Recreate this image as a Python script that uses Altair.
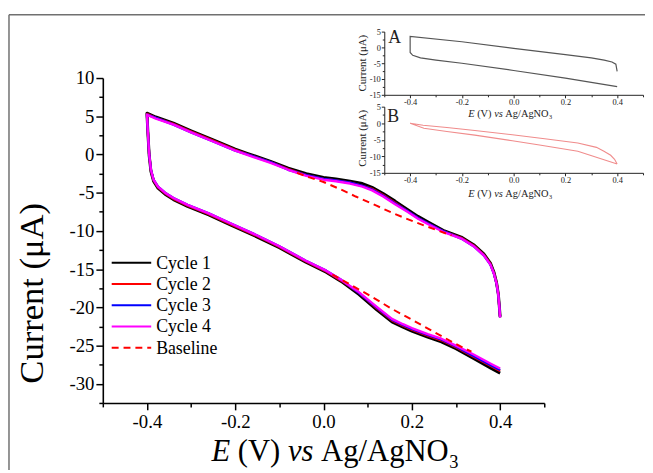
import altair as alt
import pandas as pd

SERIF = "'Liberation Serif', 'Times New Roman', Times, serif"
MINUS = "\u2212"

# ---------------- data ----------------
E_MAIN = [0.400, 0.380, 0.341, 0.300, 0.267, 0.236, 0.200, 0.180, 0.155, 0.120, 0.080, 0.040, 0.006,
          -0.040, -0.100, -0.150, -0.211, -0.260, -0.308, -0.340, -0.359, -0.375, -0.385, -0.391,
          -0.395, -0.398, -0.400,
          -0.380, -0.340, -0.300, -0.250, -0.200, -0.173, -0.120, -0.080, -0.039, 0.000, 0.028,
          0.060, 0.088, 0.110, 0.135, 0.162, 0.190, 0.214, 0.236, 0.274, 0.312, 0.340, 0.363,
          0.378, 0.386, 0.392, 0.396, 0.398, 0.400]

I_C1 = [-28.6, -28.0, -26.7, -25.4, -24.5, -23.9, -23.1, -22.6, -21.9, -20.3, -18.3, -16.6, -15.4,
        -14.1, -12.2, -10.8, -9.2, -7.9, -6.8, -5.9, -5.2, -4.4, -3.5, -2.2, -0.1, 3.0, 5.4,
        4.9, 4.1, 3.1, 1.9, 0.7, 0.15, -0.9, -1.8, -2.5, -3.0, -3.2, -3.5, -3.8, -4.3, -5.1,
        -6.1, -7.2, -8.1, -8.8, -10.0, -10.8, -11.8, -13.0, -14.2, -15.4, -16.8, -18.3, -19.7, -21.2]
I_C2 = [-28.3, -27.7, -26.5, -25.2, -24.3, -23.7, -22.9, -22.4, -21.7, -20.1, -18.1, -16.5, -15.3,
        -14.0, -12.1, -10.7, -9.1, -7.8, -6.7, -5.8, -5.1, -4.3, -3.4, -2.1, 0.0, 3.0, 5.3,
        4.8, 4.0, 3.0, 1.8, 0.6, 0.05, -1.0, -1.9, -2.7, -3.2, -3.4, -3.7, -4.1, -4.5, -5.3,
        -6.3, -7.4, -8.3, -9.0, -10.1, -10.9, -11.9, -13.1, -14.3, -15.5, -16.8, -18.3, -19.8, -21.3]
I_C3 = [-28.2, -27.6, -26.4, -25.1, -24.2, -23.6, -22.8, -22.3, -21.6, -20.0, -18.1, -16.4, -15.2,
        -13.9, -12.0, -10.6, -9.0, -7.7, -6.6, -5.7, -5.0, -4.2, -3.3, -2.0, 0.0, 3.0, 5.2,
        4.8, 3.9, 2.9, 1.7, 0.5, 0.0, -1.0, -2.0, -2.7, -3.2, -3.4, -3.7, -4.1, -4.6, -5.4,
        -6.4, -7.4, -8.3, -9.0, -10.1, -11.0, -12.0, -13.2, -14.4, -15.6, -16.9, -18.4, -19.8, -21.3]
I_C4 = [-28.0, -27.4, -26.2, -25.0, -24.1, -23.5, -22.7, -22.2, -21.5, -19.9, -18.0, -16.4, -15.2,
        -13.9, -12.0, -10.6, -9.0, -7.7, -6.6, -5.7, -5.0, -4.2, -3.3, -2.0, 0.0, 3.0, 5.2,
        4.7, 3.9, 2.9, 1.7, 0.5, -0.05, -1.1, -2.0, -2.8, -3.3, -3.5, -3.8, -4.2, -4.7, -5.5,
        -6.5, -7.5, -8.4, -9.1, -10.2, -11.0, -12.0, -13.2, -14.4, -15.6, -16.9, -18.4, -19.8, -21.3]

BASE_UP_E = [-0.060, -0.032, 0.000, 0.040, 0.073, 0.120, 0.162, 0.210, 0.252, 0.290]
BASE_UP_I = [-2.4, -3.0, -3.6, -4.6, -5.5, -6.7, -7.8, -8.9, -9.8, -10.6]
BASE_LO_E = [0.020, 0.060, 0.100, 0.155, 0.200, 0.250, 0.300, 0.335]
BASE_LO_I = [-15.7, -17.0, -18.3, -20.2, -21.6, -23.2, -24.8, -25.8]

INSET_A_E = [0.400, 0.200, 0.000, -0.200, -0.300, -0.360, -0.390, -0.400, -0.400,
             -0.200, 0.000, 0.200, 0.300, 0.350, 0.380, 0.395, 0.400]
INSET_A_I = [-12.4, -9.7, -7.3, -5.0, -4.0, -3.3, -2.5, -1.6, 3.5,
             1.8, -0.3, -2.3, -3.3, -4.0, -4.6, -5.3, -7.6]

INSET_B_E = [0.400, 0.248, 0.100, -0.005, -0.150, -0.258, -0.347, -0.400,
             -0.350, -0.258, -0.150, -0.005, 0.120, 0.248, 0.320, 0.349, 0.375, 0.390, 0.400]
INSET_B_I = [-12.3, -8.5, -6.6, -5.3, -3.6, -2.5, -1.5, 0.0,
             -0.6, -1.3, -2.2, -3.5, -4.7, -6.0, -7.3, -8.5, -9.7, -10.9, -12.3]

X_TICKS = [-0.5, -0.4, -0.3, -0.2, -0.1, 0.0, 0.1, 0.2, 0.3, 0.4, 0.5]
Y_TICKS = [10, 7.5, 5, 2.5, 0, -2.5, -5, -7.5, -10, -12.5, -15, -17.5, -20, -22.5, -25, -27.5, -30, -32.5]
INSET_Y_TICKS = [5, 2.5, 0, -2.5, -5, -7.5, -10, -12.5, -15]

LEGEND = [("Cycle 1", "#000000", None), ("Cycle 2", "#ff0000", None), ("Cycle 3", "#0000ff", None),
          ("Cycle 4", "#ff00ff", None), ("Baseline", "#ff0000", [7, 5])]

# ---------------- layout ----------------
W, H = 547, 393
MAIN_X_RANGE = [0, 447]
MAIN_Y_RANGE = [393, 64]
INSET_X_RANGE = [285, 547]
INSET_A_Y_RANGE = [81, 17]
INSET_B_Y_RANGE = [160, 93]

X_MAJOR = "abs(round(datum.value*10)) % 2 == 0"
Y_MAJOR = "datum.value % 5 == 0"
XLAB = X_MAJOR + " ? replace(format(datum.value, '.1f'), '" + MINUS + "', '-') : ''"
YLAB = Y_MAJOR + " ? replace(format(datum.value, 'd'), '" + MINUS + "', '-') : ''"


def df_path(E, I):
    return pd.DataFrame({"E": E, "I": I, "o": list(range(len(E)))})


main_xs = alt.Scale(domain=[-0.5, 0.5], range=MAIN_X_RANGE, nice=False, zero=False)
main_ys = alt.Scale(domain=[-32.5, 10], range=MAIN_Y_RANGE, nice=False, zero=False)

main_xaxis = alt.Axis(values=X_TICKS, labelExpr=XLAB, title=None, orient="bottom", grid=False,
                      tickSize={"condition": {"test": X_MAJOR, "value": 7}, "value": 4},
                      tickWidth=1.5, domainWidth=1.6, domainColor="black", tickColor="black",
                      labelFont=SERIF, labelFontSize=19, labelColor="black", labelPadding=3)
main_yaxis = alt.Axis(values=Y_TICKS, labelExpr=YLAB, title=None, orient="left", grid=False,
                      tickSize={"condition": {"test": Y_MAJOR, "value": 7}, "value": 4},
                      tickWidth=1.5, domainWidth=1.6, domainColor="black", tickColor="black",
                      labelFont=SERIF, labelFontSize=19, labelColor="black", labelPadding=2)


def main_line(df, color, width, dash=None, with_axes=False, detail=None):
    kw = dict(color=color, strokeWidth=width, strokeJoin="round")
    if dash:
        kw["strokeDash"] = dash
    enc = dict(
        x=alt.X("E:Q", scale=main_xs, axis=main_xaxis if with_axes else None),
        y=alt.Y("I:Q", scale=main_ys, axis=main_yaxis if with_axes else None),
        order=alt.Order("o:Q"),
    )
    if detail:
        enc["detail"] = alt.Detail(detail)
    return alt.Chart(df).mark_line(**kw).encode(**enc)


layers = []
layers.append(main_line(df_path(E_MAIN, I_C1), "#000000", 3.0, with_axes=True))
layers.append(main_line(df_path(E_MAIN, I_C2), "#ff0000", 2.4))
layers.append(main_line(df_path(E_MAIN, I_C3), "#0000ff", 2.4))
layers.append(main_line(df_path(E_MAIN, I_C4), "#ff00ff", 2.4))

base_df = pd.concat([
    pd.DataFrame({"E": BASE_UP_E, "I": BASE_UP_I, "seg": "up"}),
    pd.DataFrame({"E": BASE_LO_E, "I": BASE_LO_I, "seg": "lo"}),
], ignore_index=True)
base_df["o"] = range(len(base_df))
layers.append(main_line(base_df, "#ff0000", 2.0, dash=[7, 5], detail="seg:N"))


def inset_layer(E, I, color, yrange, width):
    xs = alt.Scale(domain=[-0.5, 0.5], range=INSET_X_RANGE, nice=False, zero=False)
    ys = alt.Scale(domain=[-15, 5], range=yrange, nice=False, zero=False)
    xaxis = alt.Axis(values=X_TICKS, labelExpr=XLAB, title=None, orient="bottom", grid=False,
                     offset=-(H - yrange[0]),
                     tickSize={"condition": {"test": X_MAJOR, "value": 3}, "value": 2},
                     tickWidth=1, domainWidth=1, domainColor="#222222", tickColor="#222222",
                     labelFont=SERIF, labelFontSize=8.5, labelColor="#222222", labelPadding=0)
    yaxis = alt.Axis(values=INSET_Y_TICKS, labelExpr=YLAB, title=None, orient="left", grid=False,
                     offset=-INSET_X_RANGE[0],
                     tickSize={"condition": {"test": Y_MAJOR, "value": 3}, "value": 2},
                     tickWidth=1, domainWidth=1, domainColor="#222222", tickColor="#222222",
                     labelFont=SERIF, labelFontSize=8.5, labelColor="#222222", labelPadding=1)
    return alt.Chart(df_path(E, I)).mark_line(color=color, strokeWidth=width).encode(
        x=alt.X("E:Q", scale=xs, axis=xaxis),
        y=alt.Y("I:Q", scale=ys, axis=yaxis),
        order=alt.Order("o:Q"),
    )


layers.append(inset_layer(INSET_A_E, INSET_A_I, "#555555", INSET_A_Y_RANGE, 1.2))
layers.append(inset_layer(INSET_B_E, INSET_B_I, "#f08c8c", INSET_B_Y_RANGE, 1.1))


def text_layer(txt, x, y, size, style="normal", angle=0, align="left", baseline="alphabetic",
               color="black"):
    kw = dict(font=SERIF, fontSize=size, fontStyle=style, align=align, baseline=baseline,
              color=color)
    if angle:
        kw["angle"] = angle
    return alt.Chart(pd.DataFrame({"t": [txt]})).mark_text(**kw).encode(
        x=alt.value(x), y=alt.value(y), text="t:N")


def e_title(x0, y0, F, color="black"):
    # E (V) vs Ag/AgNO3 with italic E and vs, subscript 3
    out = []
    xv = x0 + 0.611 * F + 0.25 * F
    xvs = xv + 1.388 * F + 0.25 * F
    xag = xvs + 0.833 * F + 0.25 * F
    x3 = xag + 4.166 * F
    out.append(text_layer("E", x0, y0, F, style="italic", color=color))
    out.append(text_layer("(V)", xv, y0, F, color=color))
    out.append(text_layer("vs", xvs, y0, F, style="italic", color=color))
    out.append(text_layer("Ag/AgNO", xag, y0, F, color=color))
    out.append(text_layer("3", x3 + 0.5, y0 + 0.22 * F, 0.6 * F, color=color))
    return out


# main axis titles
layers += e_title(110, 452, 31)
layers.append(text_layer("Current (\u03bcA)", -72, 282, 35, angle=270, align="center",
                         baseline="middle"))

# inset annotations
layers += e_title(370, 103, 10.5, color="#222222")
layers += e_title(370, 184, 10.5, color="#222222")
layers.append(text_layer("Current (\u03bcA)", 263, 49, 11, angle=270, align="center",
                         baseline="middle", color="#222222"))
layers.append(text_layer("Current (\u03bcA)", 263, 125, 11, angle=270, align="center",
                         baseline="middle", color="#222222"))
layers.append(text_layer("A", 289, 29, 18, color="#222222"))
layers.append(text_layer("B", 288, 109, 18, color="#222222"))

# legend
for k, (lab, col, dash) in enumerate(LEGEND):
    yr = 251 + 21.5 * k
    kw = dict(color=col, strokeWidth=2)
    if dash:
        kw["strokeDash"] = dash
    layers.append(alt.Chart(pd.DataFrame({"t": [lab]})).mark_rule(**kw).encode(
        x=alt.value(9), x2=alt.value(49), y=alt.value(yr)))
    layers.append(text_layer(lab, 54, yr + 1, 18, baseline="middle"))

# outer frame (top and left edges)
frame = pd.DataFrame({"t": ["frame"]})
layers.append(alt.Chart(frame).mark_rule(color="#707070", strokeWidth=1.5).encode(
    x=alt.value(-95), x2=alt.value(549), y=alt.value(0)))
layers.append(alt.Chart(frame).mark_rule(color="#707070", strokeWidth=1.5).encode(
    x=alt.value(-95), y=alt.value(0), y2=alt.value(461)))

chart = alt.layer(*layers).resolve_scale(x="independent", y="independent").properties(
    width=W, height=H,
    padding={"left": 96, "top": 4, "right": 2, "bottom": 66},
    autosize=alt.AutoSizeParams(type="none"),
).configure_view(stroke=None)

chart.save("out.html", embed_options={"renderer": "svg", "actions": False})
